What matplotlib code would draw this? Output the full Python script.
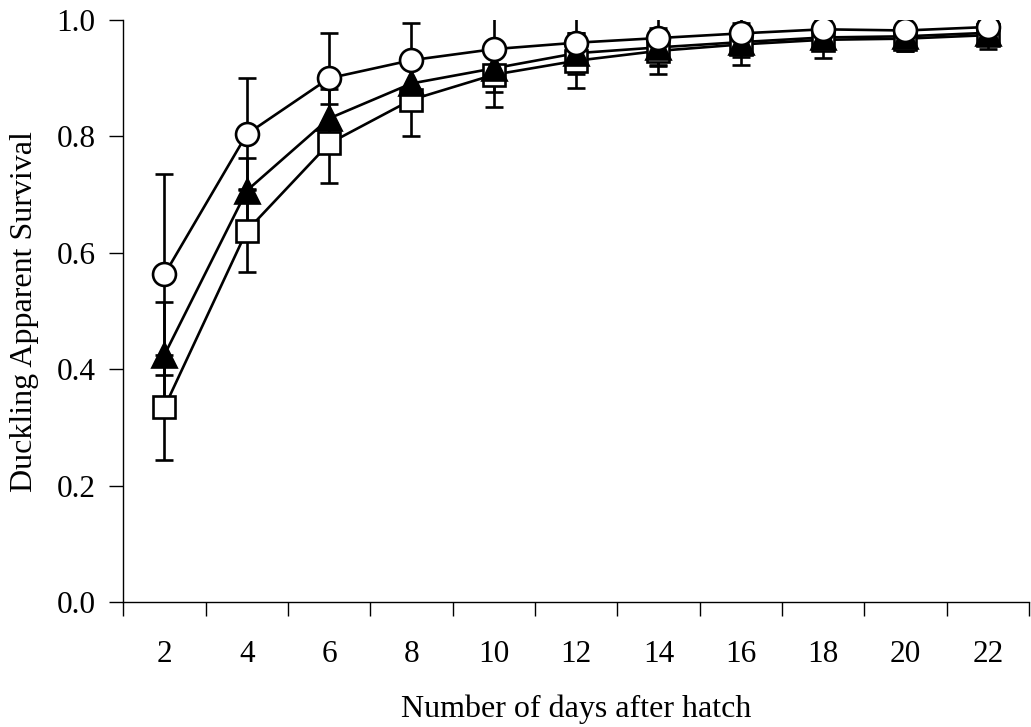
import matplotlib
matplotlib.use("Agg")
import matplotlib.pyplot as plt
import numpy as np

plt.rcParams['font.family'] = ['Liberation Serif', 'DejaVu Serif']

days = ["2", "4", "6", "8", "10", "12", "14", "16", "18", "20", "22"]

square_vals = [0.335, 0.638, 0.788, 0.863, 0.906, 0.930, 0.947, 0.958, 0.966, 0.968, 0.974]
square_err = [0.090, 0.071, 0.068, 0.062, 0.056, 0.047, 0.040, 0.036, 0.032, 0.022, 0.023]

triangle_vals = [0.425, 0.707, 0.831, 0.891, 0.917, 0.943, 0.953, 0.962, 0.970, 0.972, 0.978]
triangle_err = [0.091, 0.056, 0.050, 0.045, 0.040, 0.035, 0.030, 0.025, 0.022, 0.020, 0.018]

circle_vals = [0.563, 0.804, 0.900, 0.931, 0.950, 0.961, 0.969, 0.977, 0.984, 0.982, 0.988]
circle_err = [0.172, 0.096, 0.077, 0.064, 0.058, 0.047, 0.048, 0.034, 0.027, 0.035, 0.020]

y_ticks = [0.0, 0.2, 0.4, 0.6, 0.8, 1.0]

W, H = 1031, 727
fig = plt.figure(figsize=(W / 100, H / 100), dpi=100)
ax = fig.add_axes([123.3 / W, 1 - 602.3 / H, (1029 - 123.3) / W, (602.3 - 20) / H])

x = np.arange(len(days))
series = [
    (square_vals, square_err, 's', 'white', 3),
    (triangle_vals, triangle_err, '^', 'black', 4),
    (circle_vals, circle_err, 'o', 'white', 5),
]
LW = 1.9
for vals, err, mk, fc, z in series:
    ax.errorbar(x, vals, yerr=err, fmt='none', ecolor='black', elinewidth=LW,
                capsize=6.3, capthick=LW, zorder=2)
    ax.plot(x, vals, color='black', lw=LW, zorder=2)
for vals, err, mk, fc, z in series:
    ms = 17.5 if mk == '^' else 16.5
    ax.plot(x, vals, linestyle='none', marker=mk, markersize=ms, markerfacecolor=fc,
            markeredgecolor='black', markeredgewidth=LW, zorder=z)

FS = 22.5
ax.set_xlim(-0.5, len(days) - 0.5)
ax.set_ylim(0, 1.0)
ax.set_xticks(x)
ax.set_xticklabels(days)
ax.set_xticks(np.arange(len(days) + 1) - 0.5, minor=True)
ax.tick_params(axis='x', which='major', length=0, pad=27.5, labelsize=FS)
ax.tick_params(axis='x', which='minor', length=10, width=1, direction='out')
ax.set_yticks(y_ticks)
ax.set_yticklabels([f"{v:.1f}" for v in y_ticks])
ax.tick_params(axis='y', length=10, width=1, direction='out', pad=10, labelsize=FS)

for s in ['top', 'right']:
    ax.spines[s].set_visible(False)
for s in ['left', 'bottom']:
    ax.spines[s].set_linewidth(1)
    ax.spines[s].set_color('black')

ax.set_xlabel("Number of days after hatch", fontsize=23)
ax.set_ylabel("Duckling Apparent Survival", fontsize=23)
ax.xaxis.set_label_coords(0.5, (602.3 - 695) / 582.3)
ax.yaxis.set_label_coords((39 - 123.3) / 905.7, 0.5)

fig.savefig("out.png", dpi=100)
